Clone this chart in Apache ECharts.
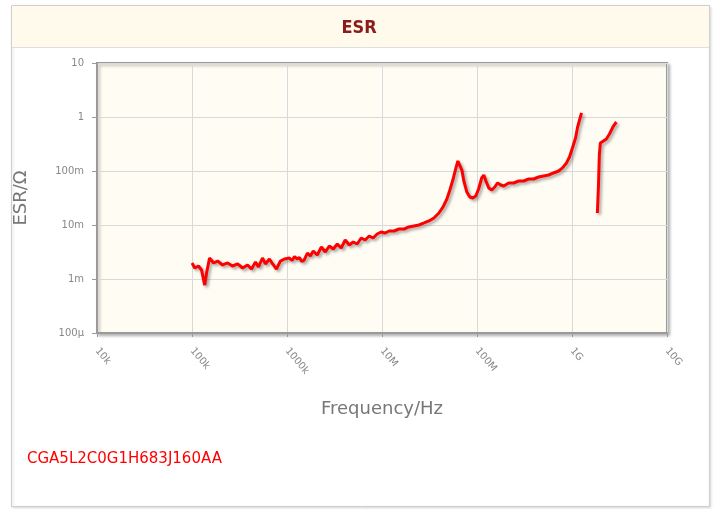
<!DOCTYPE html>
<html>
<head>
<meta charset="utf-8">
<script src="https://cdn.jsdelivr.net/npm/echarts@6/dist/echarts.min.js"></script>
<style>
html,body{margin:0;padding:0;background:#fff;}
#chart{width:718px;height:509px;}
</style>
</head>
<body>
<div id="chart"></div>
<script>
// ---- data ----
const xTickLabels = ['10k','100k','1000k','10M','100M','1G','10G'];
const yTickLabels = ['100µ','1m','10m','100m','1','10'];

// segment 1 (Hz, Ohm)
const freq1 = [1.0e5,1.07e5,1.17e5,1.26e5,1.36e5,1.43e5,1.53e5,1.69e5,1.86e5,2.10e5,2.37e5,2.67e5,3.02e5,3.41e5,3.84e5,4.23e5,4.66e5,5.01e5,5.52e5,5.93e5,6.53e5,7.19e5,7.74e5,8.53e5,9.40e5,
  1.06e6,1.13e6,1.20e6,1.28e6,1.35e6,1.43e6,1.52e6,1.64e6,1.76e6,1.89e6,2.08e6,2.30e6,2.53e6,2.79e6,3.07e6,3.38e6,3.72e6,4.10e6,4.52e6,4.98e6,5.48e6,6.04e6,6.65e6,7.33e6,8.07e6,8.89e6,9.79e6,
  1.08e7,1.19e7,1.34e7,1.51e7,1.71e7,1.92e7,2.17e7,2.45e7,2.77e7,3.12e7,3.52e7,3.97e7,4.38e7,4.82e7,5.18e7,5.57e7,6.00e7,6.29e7,6.60e7,6.93e7,7.27e7,7.82e7,8.40e7,9.03e7,9.71e7,
  1.04e8,1.12e8,1.18e8,1.24e8,1.33e8,1.43e8,1.54e8,1.65e8,1.78e8,1.91e8,2.16e8,2.43e8,2.75e8,3.10e8,3.50e8,3.95e8,4.45e8,5.02e8,5.67e8,6.39e8,7.22e8,7.94e8,8.75e8,9.41e8,
  1.01e9,1.09e9,1.14e9,1.20e9,1.26e9];
const esr1 = [1.98e-3,1.60e-3,1.74e-3,1.47e-3,0.77e-3,1.35e-3,2.45e-3,1.98e-3,2.15e-3,1.82e-3,1.98e-3,1.74e-3,1.90e-3,1.60e-3,1.82e-3,1.53e-3,2.07e-3,1.67e-3,2.45e-3,1.90e-3,2.35e-3,1.82e-3,1.53e-3,2.15e-3,2.35e-3,
  2.45e-3,2.20e-3,2.60e-3,2.35e-3,2.50e-3,2.10e-3,2.25e-3,3.03e-3,2.67e-3,3.30e-3,2.78e-3,3.91e-3,3.16e-3,4.08e-3,3.59e-3,4.45e-3,3.75e-3,5.28e-3,4.26e-3,4.84e-3,4.45e-3,5.75e-3,5.28e-3,6.26e-3,5.75e-3,6.81e-3,7.42e-3,
  7.10e-3,7.74e-3,7.74e-3,8.43e-3,8.43e-3,9.19e-3,9.60e-3,1.00e-2,1.09e-2,1.19e-2,1.35e-2,1.67e-2,2.15e-2,3.03e-2,4.45e-2,6.81e-2,0.114,0.153,0.146,0.104,0.0653,0.0408,0.0330,0.0316,0.0344,
  0.0464,0.0742,0.0843,0.0653,0.0484,0.0445,0.0506,0.0600,0.0551,0.0528,0.0600,0.0600,0.0653,0.0653,0.0711,0.0711,0.0774,0.0810,0.0843,0.0919,0.100,0.114,0.141,0.182,
  0.267,0.409,0.626,0.880,1.19];

// segment 2
const freq2 = [1.85e9,1.90e9,1.94e9,1.99e9,2.14e9,2.30e9,2.48e9,2.73e9,2.93e9];
const esr2  = [0.0167,0.055,0.198,0.330,0.359,0.391,0.484,0.681,0.808];

const partNumber = 'CGA5L2C0G1H683J160AA';

// ---- chart ----
const chart = echarts.init(document.getElementById('chart'), null, {renderer:'canvas'});
const pair = (xs, ys) => xs.map((x,i)=>[x, ys[i]]);
const lineStyle = {color:'#ff0000', width:3, shadowColor:'rgba(0,0,0,0.35)', shadowBlur:3, shadowOffsetX:2, shadowOffsetY:2};
const font = 'DejaVu Sans';

chart.setOption({
  backgroundColor:'#ffffff',
  animation:false,
  graphic:[
    {type:'rect', shape:{x:11.5, y:5.5, width:698, height:501}, style:{fill:'#fff', stroke:'#cfcfcf', lineWidth:1, shadowColor:'rgba(0,0,0,0.15)', shadowBlur:3, shadowOffsetX:1, shadowOffsetY:1}, z:-10},
    {type:'rect', shape:{x:12, y:6, width:697, height:41}, style:{fill:'#fffaec', stroke:null}, z:-9},
    {type:'line', shape:{x1:12, y1:47.5, x2:709, y2:47.5}, style:{stroke:'#dedede', lineWidth:1}, z:-9},
    {type:'text', left:27, top:452, style:{text:partNumber, fill:'#ff0000', font:'15px "DejaVu Sans"'}}
  ],
  title:{
    text:'ESR', left:'center', top:14,
    textStyle:{color:'#8b1c1c', fontSize:18, fontWeight:'bold', fontFamily:'DejaVu Sans Condensed, DejaVu Sans'}
  },
  grid:{
    left:97, right:51, top:63, bottom:176,
    show:true, backgroundColor:'#fffcf4', borderColor:'#9a9a9a', borderWidth:2,
    shadowColor:'rgba(0,0,0,0.25)', shadowBlur:3, shadowOffsetX:2, shadowOffsetY:2
  },
  xAxis:{
    type:'log', logBase:10, min:1e4, max:1e10,
    name:'Frequency/Hz', nameLocation:'middle', nameGap:67,
    nameTextStyle:{color:'#777', fontSize:18, fontFamily:font},
    axisLine:{lineStyle:{color:'#9a9a9a', width:2}},
    axisTick:{show:true, length:4, lineStyle:{color:'#9a9a9a'}},
    splitLine:{show:true, lineStyle:{color:'#d9d9d9', width:1}},
    minorTick:{show:false},
    axisLabel:{
      rotate:-50, margin:16, color:'#888', fontSize:10, fontFamily:font,
      formatter:(v)=>xTickLabels[Math.round(Math.log10(v))-4] || ''
    }
  },
  yAxis:{
    type:'log', logBase:10, min:1e-4, max:10,
    name:'ESR/Ω', nameLocation:'middle', nameGap:67, nameRotate:90,
    nameTextStyle:{color:'#777', fontSize:18, fontFamily:font},
    axisLine:{lineStyle:{color:'#9a9a9a', width:2}},
    axisTick:{show:true, length:5, lineStyle:{color:'#9a9a9a'}},
    splitLine:{show:true, lineStyle:{color:'#d9d9d9', width:1}},
    axisLabel:{
      margin:13, color:'#888', fontSize:10, fontFamily:font,
      formatter:(v)=>yTickLabels[Math.round(Math.log10(v))+4] || ''
    }
  },
  series:[
    {type:'line', data:pair(freq1, esr1), showSymbol:false, symbol:'none', lineStyle:lineStyle, z:5},
    {type:'line', data:pair(freq2, esr2), showSymbol:false, symbol:'none', lineStyle:lineStyle, z:5}
  ]
});
</script>
</body>
</html>
